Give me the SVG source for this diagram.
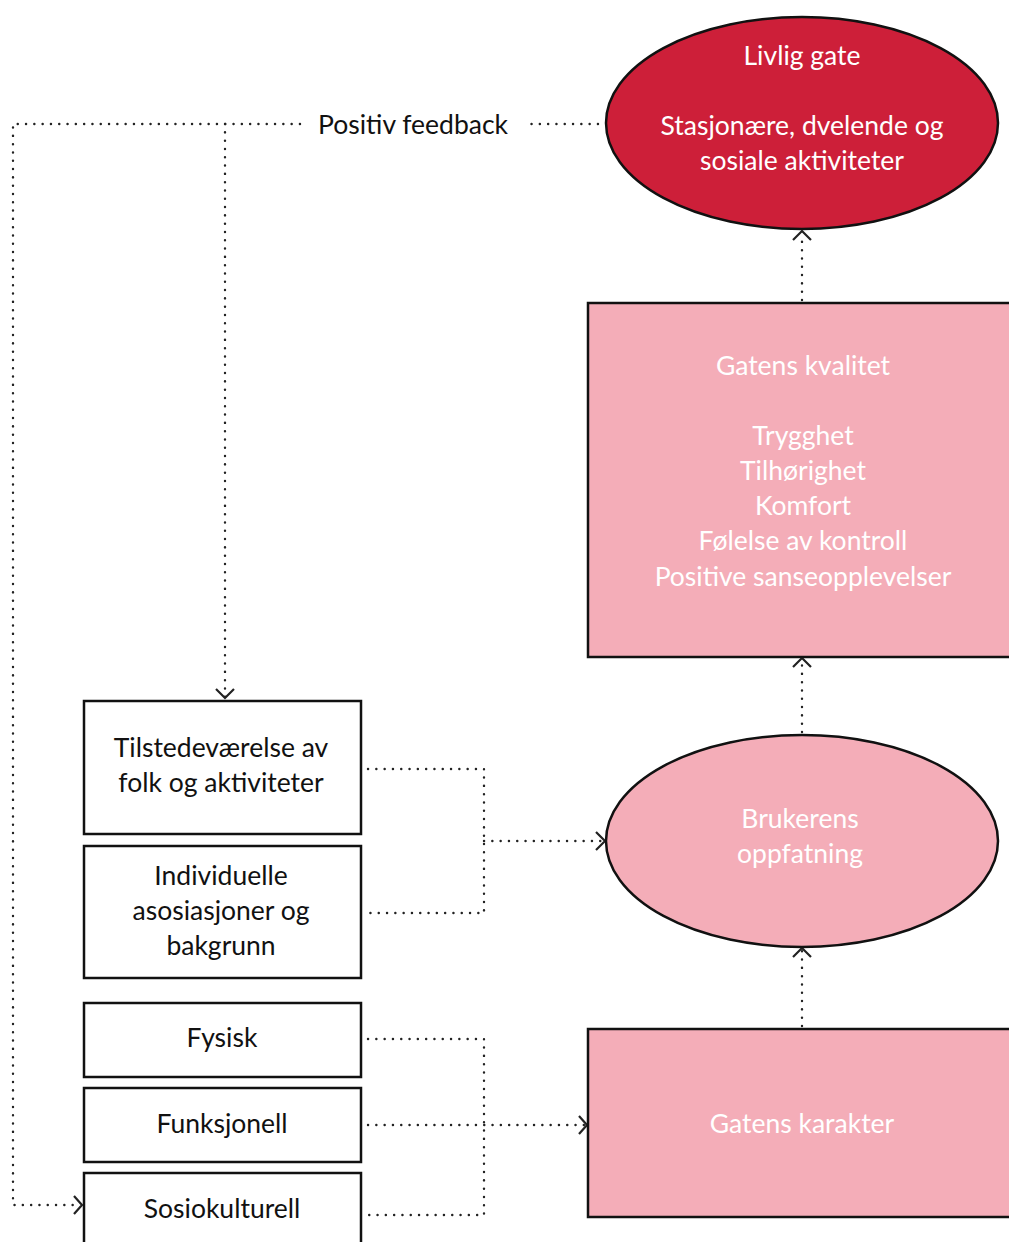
<svg xmlns="http://www.w3.org/2000/svg" width="1009" height="1242" viewBox="0 0 1009 1242">
<style>
.t{font-family:Lato,"Liberation Sans",sans-serif;font-size:26.5px;font-weight:400;text-anchor:middle;dominant-baseline:central}
.w{fill:#ffffff}
.k{fill:#111111}
.box{fill:#ffffff;stroke:#111111;stroke-width:2.5}
.pink{fill:#F4ADB8;stroke:#111111;stroke-width:2.5}
.red{fill:#CD1F39;stroke:#111111;stroke-width:2.5}
.dot{fill:none;stroke:#222222;stroke-width:2.4;stroke-linecap:round;stroke-dasharray:0.1 8.2}
.ah{fill:none;stroke:#222222;stroke-width:2.2}
</style>
<rect width="1009" height="1242" fill="#ffffff"/>
<g id="connectors">
<path class="dot" d="M598 124 H527"/>
<path class="dot" d="M300 124 H13 V1205 H78"/>
<path class="dot" d="M225 124 V697"/>
<path class="dot" d="M368 769 H484 V913 H368"/>
<path class="dot" d="M484 841 H602"/>
<path class="dot" d="M368 1039 H484 V1215 H368"/>
<path class="dot" d="M368 1125 H584"/>
<path class="dot" d="M802 1026 V951"/>
<path class="dot" d="M802 732 V661"/>
<path class="dot" d="M802 300 V234"/>
<path class="ah" d="M216 689 L225 698 L234 689"/>
<path class="ah" d="M74 1196 L82 1205 L74 1214"/>
<path class="ah" d="M596 832 L605 841 L596 850"/>
<path class="ah" d="M579 1116 L587 1125 L579 1134"/>
<path class="ah" d="M793 957 L802 948 L811 957"/>
<path class="ah" d="M793 667 L802 658 L811 667"/>
<path class="ah" d="M793 240 L802 231 L811 240"/>
<text class="t k" x="413" y="124">Positiv feedback</text>
</g>
<g id="livlig">
<ellipse class="red" cx="802" cy="123" rx="196" ry="106"/>
<text class="t w" x="802" y="55">Livlig gate</text>
<text class="t w" x="802" y="125">Stasjonære, dvelende og</text>
<text class="t w" x="802" y="160">sosiale aktiviteter</text>
</g>
<g id="kvalitet">
<rect class="pink" x="588" y="303" width="425" height="354"/>
<text class="t w" x="803" y="365">Gatens kvalitet</text>
<text class="t w" x="803" y="435">Trygghet</text>
<text class="t w" x="803" y="470">Tilhørighet</text>
<text class="t w" x="803" y="505">Komfort</text>
<text class="t w" x="803" y="540">Følelse av kontroll</text>
<text class="t w" x="803" y="576">Positive sanseopplevelser</text>
</g>
<g id="brukerens">
<ellipse class="pink" cx="802" cy="841" rx="196" ry="106"/>
<text class="t w" x="800" y="818">Brukerens</text>
<text class="t w" x="800" y="853">oppfatning</text>
</g>
<g id="karakter">
<rect class="pink" x="588" y="1029" width="425" height="188"/>
<text class="t w" x="802" y="1123">Gatens karakter</text>
</g>
<g id="tilstede">
<rect class="box" x="84" y="701" width="277" height="133"/>
<text class="t k" x="221" y="747">Tilstedeværelse av</text>
<text class="t k" x="221" y="782">folk og aktiviteter</text>
</g>
<g id="individuelle">
<rect class="box" x="84" y="846" width="277" height="132"/>
<text class="t k" x="221" y="875">Individuelle</text>
<text class="t k" x="221" y="910">asosiasjoner og</text>
<text class="t k" x="221" y="945">bakgrunn</text>
</g>
<g id="fysisk">
<rect class="box" x="84" y="1003" width="277" height="74"/>
<text class="t k" x="222" y="1037">Fysisk</text>
</g>
<g id="funksjonell">
<rect class="box" x="84" y="1088" width="277" height="74"/>
<text class="t k" x="222" y="1123">Funksjonell</text>
</g>
<g id="sosiokulturell">
<rect class="box" x="84" y="1173" width="277" height="80"/>
<text class="t k" x="222" y="1208">Sosiokulturell</text>
</g>
</svg>
